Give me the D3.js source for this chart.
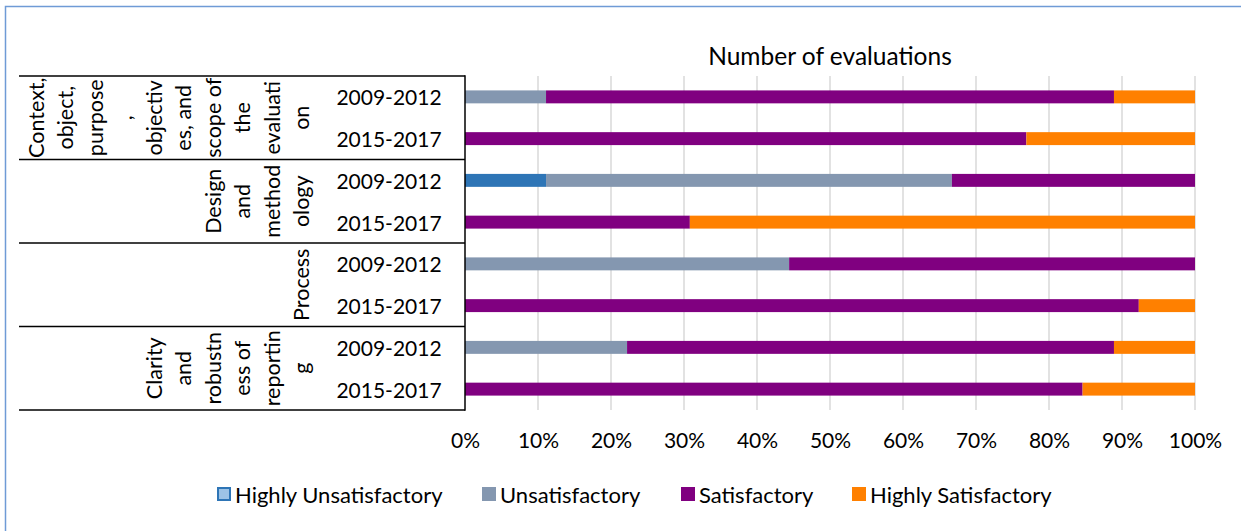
<!DOCTYPE html>
<html>
<head>
<meta charset="utf-8">
<script src="https://cdn.jsdelivr.net/npm/d3@7"></script>
<style>
  html, body { margin: 0; padding: 0; background: #ffffff; }
  svg { display: block; }
  text { font-family: Lato, "Open Sans", sans-serif; fill: #000; }
</style>
</head>
<body>
<svg id="chart" width="1241" height="531"></svg>
<script>
// ---------- data ----------
const groupLines = [
  ["Context,", "object,", "purpose", ",", "objectiv", "es, and", "scope of", "the", "evaluati", "on"],
  ["Design", "and", "method", "ology"],
  ["Process"],
  ["Clarity", "and", "robustn", "ess of", "reportin", "g"]
];
const periods = ["2009-2012", "2015-2017"];
const seriesNames = ["Highly Unsatisfactory", "Unsatisfactory", "Satisfactory", "Highly Satisfactory"];
// rows in order: group1 p1, group1 p2, group2 p1, ...
const highlyUnsatisfactory = [0, 0, 11.1, 0, 0, 0, 0, 0];
const unsatisfactory       = [11.1, 0, 55.6, 0, 44.4, 0, 22.2, 0];
const satisfactory         = [77.8, 76.9, 33.3, 30.8, 55.6, 92.3, 66.7, 84.6];
const highlySatisfactory   = [11.1, 23.1, 0, 69.2, 0, 7.7, 11.1, 15.4];
const xTicks = [0, 10, 20, 30, 40, 50, 60, 70, 80, 90, 100];
const title = "Number of evaluations";

// ---------- layout ----------
const colors = ["#2e75b6", "#8497b0", "#800080", "#ff8000"];
const svg = d3.select("#chart");
const W = 1241, H = 531;
const plot = { left: 465, right: 1195, top: 76, bottom: 410 };
const tableLeft = 19;
const fs = 21;

// outer frame
svg.append("path")
  .attr("d", `M5.5,${H + 5} V6.5 H${W + 5}`)
  .attr("fill", "none").attr("stroke", "#6f9bd6").attr("stroke-width", 1.5);

const rows = [];
groupLines.forEach((g, gi) => periods.forEach((p, pi) => rows.push({ key: gi + "|" + p, gi, period: p })));
const data = rows.map((r, i) => ({
  key: r.key,
  "Highly Unsatisfactory": highlyUnsatisfactory[i],
  "Unsatisfactory": unsatisfactory[i],
  "Satisfactory": satisfactory[i],
  "Highly Satisfactory": highlySatisfactory[i]
}));

const x = d3.scaleLinear().domain([0, 100]).range([plot.left, plot.right]);
const y = d3.scaleBand().domain(rows.map(r => r.key))
  .range([plot.top, plot.bottom]).paddingInner(0.69).paddingOuter(0.345);

// gridlines
svg.append("g").selectAll("line").data(xTicks.filter(t => t > 0)).join("line")
  .attr("x1", d => x(d)).attr("x2", d => x(d))
  .attr("y1", plot.top).attr("y2", plot.bottom)
  .attr("stroke", "#d9d9d9").attr("stroke-width", 1.5);

// bars
const stack = d3.stack().keys(seriesNames);
const stacked = stack(data);
svg.append("g").selectAll("g").data(stacked).join("g")
  .attr("fill", (d, i) => colors[i])
  .selectAll("rect").data(d => d.filter(v => v[1] - v[0] > 0)).join("rect")
  .attr("x", d => x(d[0]))
  .attr("width", d => x(d[1]) - x(d[0]))
  .attr("y", d => y(d.data.key))
  .attr("height", y.bandwidth());

// x axis labels
const xAxis = d3.axisBottom(x).tickValues(xTicks).tickFormat(d => d + "%").tickSize(0).tickPadding(0);
const xg = svg.append("g").attr("transform", `translate(0, 448)`).call(xAxis);
xg.select(".domain").remove();
xg.selectAll("text").attr("font-size", fs).attr("font-family", "Lato, sans-serif").attr("fill", "#000")
  .attr("dy", 0);

// category table lines
const step = y.step();
const groupBounds = groupLines.map((g, gi) => [plot.top + gi * 2 * step, plot.top + (gi + 1) * 2 * step]);
const hLines = [plot.top].concat(groupBounds.map(b => b[1]));
svg.append("g").selectAll("line").data(hLines).join("line")
  .attr("x1", tableLeft).attr("x2", plot.left)
  .attr("y1", d => d).attr("y2", d => d)
  .attr("stroke", "#000").attr("stroke-width", 1.5);
svg.append("line")
  .attr("x1", plot.left).attr("x2", plot.left)
  .attr("y1", plot.top - 0.75).attr("y2", plot.bottom + 0.75)
  .attr("stroke", "#000").attr("stroke-width", 1.5);

// period labels
svg.append("g").selectAll("text").data(rows).join("text")
  .attr("x", 389)
  .attr("y", d => y(d.key) + y.bandwidth() / 2)
  .attr("text-anchor", "middle")
  .attr("dominant-baseline", "central")
  .attr("font-size", fs)
  .text(d => d.period);

// group labels (rotated, wrapped lines)
const lineGap = 29.5, lastLineX = 301;
groupLines.forEach((lines, gi) => {
  const cy = (groupBounds[gi][0] + groupBounds[gi][1]) / 2;
  const n = lines.length;
  lines.forEach((ln, li) => {
    const lx = lastLineX - (n - 1 - li) * lineGap;
    svg.append("text")
      .attr("transform", `translate(${lx},${cy}) rotate(-90)`)
      .attr("text-anchor", "middle")
      .attr("dominant-baseline", "central")
      .attr("font-size", 21.5)
      .text(ln);
  });
});

// title
svg.append("text")
  .attr("x", (plot.left + plot.right) / 2).attr("y", 65)
  .attr("text-anchor", "middle").attr("font-size", 24.5)
  .text(title);

// legend
const legendX = [217, 482, 681, 852];
const lg = svg.append("g");
seriesNames.forEach((s, i) => {
  const g = lg.append("g").attr("transform", `translate(${legendX[i]},487)`);
  if (i === 0) {
    g.append("rect").attr("x", 1).attr("y", 1).attr("width", 12).attr("height", 12)
      .attr("fill", "#9dc3e6").attr("stroke", colors[0]).attr("stroke-width", 2);
  } else {
    g.append("rect").attr("width", 14).attr("height", 14).attr("fill", colors[i]);
  }
  g.append("text").attr("x", 18).attr("y", 7).attr("dominant-baseline", "central")
    .attr("font-size", 22).text(s);
});
</script>
</body>
</html>
